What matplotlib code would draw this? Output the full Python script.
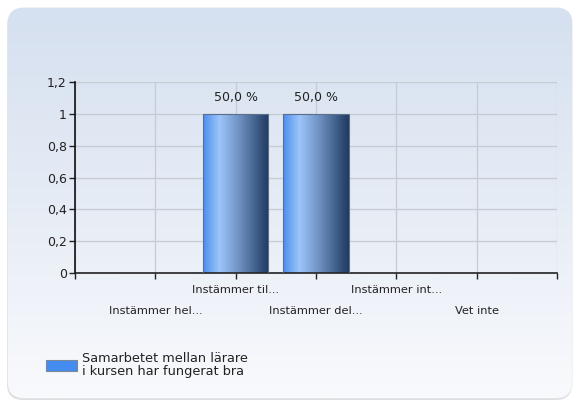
import numpy as np
import matplotlib
matplotlib.use("Agg")
import matplotlib.pyplot as plt
from matplotlib.patches import FancyBboxPatch
from matplotlib.colors import LinearSegmentedColormap
import matplotlib.transforms as mtransforms

categories = ["Instämmer hel...", "Instämmer til...", "Instämmer del...",
              "Instämmer int...", "Vet inte"]
values = [0, 1, 1, 0, 0]
percent_labels = ["", "50,0 %", "50,0 %", "", ""]
y_ticks = [0, 0.2, 0.4, 0.6, 0.8, 1, 1.2]
y_tick_labels = ["0", "0,2", "0,4", "0,6", "0,8", "1", "1,2"]
series_name = "Samarbetet mellan lärare\ni kursen har fungerat bra"

W, H = 576, 401
fig = plt.figure(figsize=(W / 100, H / 100), dpi=100)
fig.patch.set_facecolor("white")

# rounded panel with vertical gradient
bg = fig.add_axes([0, 0, 1, 1], zorder=-10)
bg.set_xlim(0, W)
bg.set_ylim(H, 0)
bg.axis("off")
shadow = FancyBboxPatch((7, 10), 565, 390, boxstyle="round,pad=0,rounding_size=16",
                        fc="#c9c9c9", ec="none", alpha=0.6)
bg.add_patch(shadow)
panel = FancyBboxPatch((8, 8), 564, 390, boxstyle="round,pad=0,rounding_size=16",
                       fc="none", ec="#e4e8ee", lw=0.8)
bg.add_patch(panel)
grad_bg = LinearSegmentedColormap.from_list("bg", ["#d5e0f0", "#e6ecf5", "#f9fafd"])
img = bg.imshow(np.linspace(0, 1, 256).reshape(-1, 1), cmap=grad_bg, aspect="auto",
                extent=(8, 572, 398, 8), zorder=1)
img.set_clip_path(panel)

ax = fig.add_axes([75 / W, 1 - 273 / H, (557 - 75) / W, (273 - 82) / H])
ax.patch.set_alpha(0)

x = np.arange(1, len(categories) + 1)
bars = ax.bar(x, values, width=0.81, color="#448cf0", edgecolor="#5a6f8c",
              linewidth=0.8, label=series_name, zorder=3)

bar_cmap = LinearSegmentedColormap.from_list(
    "bar", [(0, "#4a8ef0"), (0.25, "#9dc5f9"), (0.55, "#6f91c2"), (1, "#1f3a62")])
for rect in bars:
    if rect.get_height() <= 0:
        continue
    x0, y0 = rect.get_x(), rect.get_y()
    im = ax.imshow(np.linspace(0, 1, 256).reshape(1, -1), cmap=bar_cmap, aspect="auto",
                   extent=(x0, x0 + rect.get_width(), y0, y0 + rect.get_height()),
                   zorder=2.5)
    im.set_clip_path(rect)
    rect.set_facecolor("none")

for rect, lab in zip(bars, percent_labels):
    if lab:
        ax.annotate(lab, (rect.get_x() + rect.get_width() / 2, rect.get_height()),
                    xytext=(0, 7), textcoords="offset points", ha="center", va="bottom",
                    fontsize=9, color="#222222")

ax.set_xlim(0, 6)
ax.set_ylim(0, 1.2)
ax.set_yticks(y_ticks)
ax.set_yticklabels(y_tick_labels, fontsize=9, color="#222222")
ax.set_xticks(np.arange(0, 7))
ax.set_xticklabels([])
ax.tick_params(axis="both", direction="out", length=4, width=1, color="#222222")
ax.tick_params(axis="y", pad=2)
ax.grid(True, color="#c6cad2", linewidth=0.9, zorder=0)
ax.set_axisbelow(True)
for side in ["top", "right"]:
    ax.spines[side].set_visible(False)
ax.spines["left"].set_color("#111111")
ax.spines["bottom"].set_color("#222222")
ax.spines["left"].set_linewidth(1.2)
ax.spines["bottom"].set_linewidth(1.2)

# staggered category labels
trans = mtransforms.blended_transform_factory(ax.transData, ax.transAxes)
for i, (xi, cat) in enumerate(zip(x, categories)):
    dy = -17 if i % 2 == 1 else -38
    off = mtransforms.ScaledTranslation(0, dy / 100, fig.dpi_scale_trans)
    ax.text(xi, 0, cat, transform=trans + off, ha="center", va="center",
            fontsize=8.2, color="#222222")

leg = fig.legend(handles=[bars], labels=[series_name], loc="upper left",
                 bbox_to_anchor=(34 / W, 1 - 340 / H), frameon=False, fontsize=9.3,
                 handlelength=2.4, handleheight=1.0, handletextpad=0.45,
                 labelspacing=0)
for h in leg.legend_handles:
    h.set_facecolor("#448cf0")
    h.set_edgecolor("#7a8898")
for t in leg.get_texts():
    t.set_color("#222222")
    t.set_linespacing(1.05)

fig.savefig("out.png", dpi=100)
